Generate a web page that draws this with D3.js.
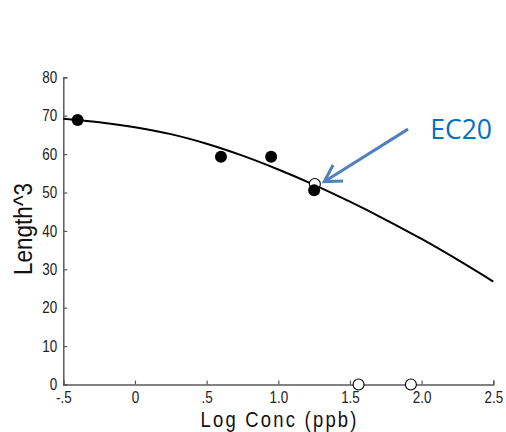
<!DOCTYPE html>
<html>
<head>
<meta charset="utf-8">
<script src="https://cdn.jsdelivr.net/npm/d3@7"></script>
<style>
  html, body { margin: 0; padding: 0; background: #fff; }
  svg { display: block; }
</style>
</head>
<body>
<svg id="chart" width="506" height="432"></svg>
<script>
// ---- data ----
const xTicks = [-0.5, 0, 0.5, 1.0, 1.5, 2.0, 2.5];
const xTickLabels = ["-.5", "0", ".5", "1.0", "1.5", "2.0", "2.5"];
const yTicks = [0, 10, 20, 30, 40, 50, 60, 70, 80];

const filledX = [-0.4, 0.6, 0.95, 1.25];
const filledY = [68.9, 59.3, 59.3, 50.6];

const openX = [1.255, 1.56, 1.925];
const openY = [52.2, 0, 0];

const curveX = [-0.5, -0.25, 0, 0.25, 0.5, 0.75, 1.0, 1.25, 1.5, 1.75, 2.0, 2.25, 2.5];
const curveY = [69.2, 68.3, 67.0, 65.2, 62.7, 59.6, 56.0, 52.0, 47.6, 42.9, 37.9, 32.5, 26.8];

const annotationText = "EC20";
const arrowFrom = [1.905, 66.5];
const arrowTo = [1.32, 52.8];
const textAt = [2.06, 64.0];

// ---- layout ----
const svg = d3.select("#chart");
const x = d3.scaleLinear().domain([-0.5, 2.5]).range([63.3, 493.3]);
const y = d3.scaleLinear().domain([0, 80]).range([384.5, 77.3]);

const axisColor = "#5a5a5a";
const font = "'Liberation Sans', Arial, sans-serif";
const sx = 0.84; // horizontal condensing of the narrow label font

// x axis
const gx = svg.append("g").attr("transform", `translate(0,${y(0)})`)
  .call(d3.axisBottom(x).tickValues(xTicks).tickSize(-4).tickPadding(7)
    .tickFormat((d, i) => xTickLabels[i]));
gx.select(".domain").attr("stroke", axisColor).attr("stroke-width", 1.5);
gx.selectAll(".tick line").attr("stroke", axisColor).attr("stroke-width", 1.2);
gx.selectAll(".tick text").attr("font-family", font).attr("font-size", 16).attr("fill", "#222")
  .attr("transform", `scale(${sx},1)`);

// y axis
const gy = svg.append("g").attr("transform", `translate(${x(-0.5)},0)`)
  .call(d3.axisLeft(y).tickValues(yTicks).tickSize(-4).tickPadding(6));
gy.select(".domain").attr("stroke", axisColor).attr("stroke-width", 1.5);
gy.selectAll(".tick line").attr("stroke", axisColor).attr("stroke-width", 1.2);
gy.selectAll(".tick text").attr("font-family", font).attr("font-size", 16).attr("fill", "#222")
  .attr("x", -6 / sx).attr("transform", `scale(${sx},1)`);

// axis titles
const tx = 0.82;
svg.append("text")
  .attr("transform", `scale(${tx},1)`)
  .attr("x", 200.5 / tx).attr("y", 427)
  .attr("font-family", font).attr("font-size", 22.5)
  .attr("textLength", 156 / tx).attr("lengthAdjust", "spacing")
  .attr("fill", "#111")
  .text("Log Conc (ppb)");

svg.append("text")
  .attr("transform", `translate(32,275) rotate(-90)`)
  .attr("font-family", font).attr("font-size", 26)
  .attr("textLength", 92).attr("lengthAdjust", "spacingAndGlyphs")
  .attr("fill", "#111")
  .text("Length^3");

// fitted curve
const curveData = curveX.map((d, i) => [d, curveY[i]]);
svg.append("path")
  .datum(curveData)
  .attr("fill", "none").attr("stroke", "#000").attr("stroke-width", 2)
  .attr("d", d3.line().x(d => x(d[0])).y(d => y(d[1])).curve(d3.curveCatmullRom));

// open points
svg.selectAll("circle.open")
  .data(openX.map((d, i) => [d, openY[i]]))
  .join("circle").attr("class", "open")
  .attr("cx", d => x(d[0])).attr("cy", d => y(d[1])).attr("r", 5.5)
  .attr("fill", "#fff").attr("stroke", "#000").attr("stroke-width", 1.1);

// filled points
svg.selectAll("circle.filled")
  .data(filledX.map((d, i) => [d, filledY[i]]))
  .join("circle").attr("class", "filled")
  .attr("cx", d => x(d[0])).attr("cy", d => y(d[1])).attr("r", 6)
  .attr("fill", "#000");

// annotation arrow
const arrowColor = "#4f81bd";
const x1 = x(arrowFrom[0]), y1 = y(arrowFrom[1]);
const x2 = x(arrowTo[0]), y2 = y(arrowTo[1]);
svg.append("line")
  .attr("x1", x1).attr("y1", y1).attr("x2", x2).attr("y2", y2)
  .attr("stroke", arrowColor).attr("stroke-width", 3);
const ang = Math.atan2(y1 - y2, x1 - x2);
const headLen = 19, headAng = 0.52;
const arm = s => [x2 + headLen * Math.cos(ang + s * headAng), y2 + headLen * Math.sin(ang + s * headAng)];
const a1 = arm(1), a2 = arm(-1);
svg.append("path")
  .attr("d", `M${a1[0]},${a1[1]}L${x2},${y2}L${a2[0]},${a2[1]}`)
  .attr("fill", "none").attr("stroke", arrowColor).attr("stroke-width", 3)
  .attr("stroke-linejoin", "miter");

svg.append("text")
  .attr("x", x(textAt[0])).attr("y", y(textAt[1]))
  .attr("font-family", "'Open Sans', sans-serif").attr("font-size", 26.5)
  .attr("fill", "#0070c0")
  .text(annotationText);
</script>
</body>
</html>
